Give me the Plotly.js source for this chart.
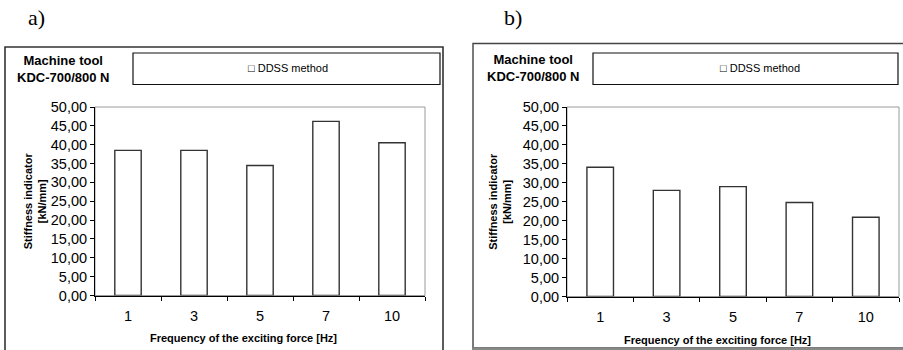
<!DOCTYPE html>
<html>
<head>
<meta charset="utf-8">
<script src="https://cdn.plot.ly/plotly-3.0.1.min.js"></script>
<style>html,body{margin:0;padding:0;background:#fff;}#chart{width:903px;height:350px;}</style>
</head>
<body>
<div id="chart"></div>
<script>
// ---- data ----
const categories = ['1', '3', '5', '7', '10'];
const stiffnessA = [38.5, 38.5, 34.5, 46.2, 40.5];
const stiffnessB = [34.1, 28.0, 29.0, 24.8, 20.9];
const seriesName = 'DDSS method';
const panelLabels = ['a)', 'b)'];
const machineLabel = 'Machine tool<br>KDC-700/800 N';
const xTitle = 'Frequency of the exciting force [Hz]';
const yTitle = 'Stiffness indicator<br>[kN/mm]';

// ---- helpers (pixel -> paper) ----
const W = 903, H = 350;
const px = x => x / W;
const py = y => 1 - y / H;
const FONT = 'Arial, "Liberation Sans", sans-serif';

const boundaries = categories.map((c, i) => i - 0.5).concat([categories.length - 0.5]);

function bar(y, xa, ya) {
  return {
    type: 'bar', x: categories, y: y, name: seriesName,
    xaxis: xa, yaxis: ya, width: 0.4,
    marker: {color: '#ffffff', line: {color: '#333333', width: 1.4}},
    showlegend: false, hoverinfo: 'x+y'
  };
}

const data = [bar(stiffnessA, 'x', 'y'), bar(stiffnessB, 'x2', 'y2')];

function catAxis(domain, anchor) {
  return {
    domain: domain, anchor: anchor, type: 'category',
    categoryorder: 'array', categoryarray: categories,
    range: [-0.5, categories.length - 0.5],
    tickson: 'boundaries', ticks: 'outside', ticklen: 4, tickcolor: '#000', tickwidth: 1,
    ticklabelstandoff: 7,
    showline: true, linecolor: '#000', linewidth: 1,
    showgrid: false, zeroline: false, fixedrange: true,
    tickfont: {family: FONT, size: 14.5, color: '#000'}
  };
}
function valAxis(domain, anchor, standoff) {
  return {
    domain: domain, anchor: anchor, range: [0, 50], dtick: 5, tick0: 0,
    tickformat: '.2f', ticks: 'outside', ticklen: 4, tickcolor: '#000', tickwidth: 1,
    ticklabelstandoff: 0,
    showline: true, linecolor: '#000', linewidth: 1,
    showgrid: false, zeroline: false, fixedrange: true,
    tickfont: {family: FONT, size: 14.5, color: '#000'},
    title: {text: yTitle, font: {family: FONT, size: 11, color: '#000', weight: 700}, standoff: standoff}
  };
}
function innerX(over, anchor) {
  return {overlaying: over, anchor: anchor, type: 'linear', range: [-0.5, categories.length - 0.5],
    tickmode: 'array', tickvals: boundaries, ticks: 'inside', ticklen: 4, tickcolor: '#000',
    showticklabels: false, showline: false, showgrid: false, zeroline: false, fixedrange: true};
}
function innerY(over, anchor) {
  return {overlaying: over, anchor: anchor, range: [0, 50], dtick: 5, tick0: 0,
    ticks: 'inside', ticklen: 4, tickcolor: '#000',
    showticklabels: false, showline: false, showgrid: false, zeroline: false, fixedrange: true};
}

const xdA = [px(95), px(425)], ydA = [py(295.5), py(107)];
const xdB = [px(567), px(899)], ydB = [py(296.5), py(107)];

function note(text, x, y, font) {
  return {text: text, xref: 'paper', yref: 'paper', x: px(x), y: py(y),
    xanchor: 'center', yanchor: 'middle', showarrow: false, font: font};
}
const serif = {family: '"Liberation Serif", "Times New Roman", serif', size: 22, color: '#000'};
const boldLbl = {family: FONT, size: 13, color: '#000', weight: 700};
const legFont = {family: FONT, size: 11, color: '#000'};
const titleFont = {family: FONT, size: 11, color: '#000', weight: 700};

const layout = {
  width: W, height: H, margin: {l: 0, r: 0, t: 0, b: 0},
  paper_bgcolor: '#fff', plot_bgcolor: 'rgba(0,0,0,0)',
  separators: ', ', showlegend: false,
  font: {family: FONT, color: '#000'},
  xaxis: catAxis(xdA, 'y'), yaxis: valAxis(ydA, 'x', 1),
  xaxis2: catAxis(xdB, 'y2'), yaxis2: valAxis(ydB, 'x2', 8),
  xaxis3: innerX('x', 'y'), yaxis3: innerY('y', 'x'),
  xaxis4: innerX('x2', 'y2'), yaxis4: innerY('y2', 'x2'),
  shapes: [
    // outer frames
    {type: 'rect', xref: 'paper', yref: 'paper', x0: px(5), x1: px(443), y0: py(360), y1: py(47), line: {color: '#333', width: 1.6}},
    {type: 'rect', xref: 'paper', yref: 'paper', x0: px(473), x1: px(910), y0: py(348), y1: py(43.5), line: {color: '#444', width: 1.4}},
    {type: 'line', xref: 'paper', yref: 'paper', x0: px(472), x1: px(905), y0: py(349), y1: py(349), line: {color: '#888', width: 3}},
    // legend boxes
    {type: 'rect', xref: 'paper', yref: 'paper', x0: px(133), x1: px(440), y0: py(84.5), y1: py(53), line: {color: '#111', width: 1.2}},
    {type: 'rect', xref: 'paper', yref: 'paper', x0: px(593), x1: px(898), y0: py(84.5), y1: py(53), line: {color: '#111', width: 1.2}},
    // plot-area borders (grey top/right)
    {type: 'rect', xref: 'x domain', yref: 'y domain', x0: 0, x1: 1, y0: 0, y1: 1, layer: 'below', line: {color: '#9a9a9a', width: 1}},
    {type: 'rect', xref: 'x2 domain', yref: 'y2 domain', x0: 0, x1: 1, y0: 0, y1: 1, layer: 'below', line: {color: '#9a9a9a', width: 1}}
  ],
  annotations: [
    note(panelLabels[0], 36, 18, serif),
    note(panelLabels[1], 513, 18, serif),
    note(machineLabel, 63, 69, boldLbl),
    note(machineLabel, 533, 67.5, boldLbl),
    note('\u25A1 ' + seriesName, 288, 68, legFont),
    note('\u25A1 ' + seriesName, 760, 68, legFont),
    note(xTitle, 243, 338, titleFont),
    note(xTitle, 717, 340, titleFont)
  ]
};

Plotly.newPlot('chart', data, layout, {displayModeBar: false, staticPlot: true});
</script>
</body>
</html>
